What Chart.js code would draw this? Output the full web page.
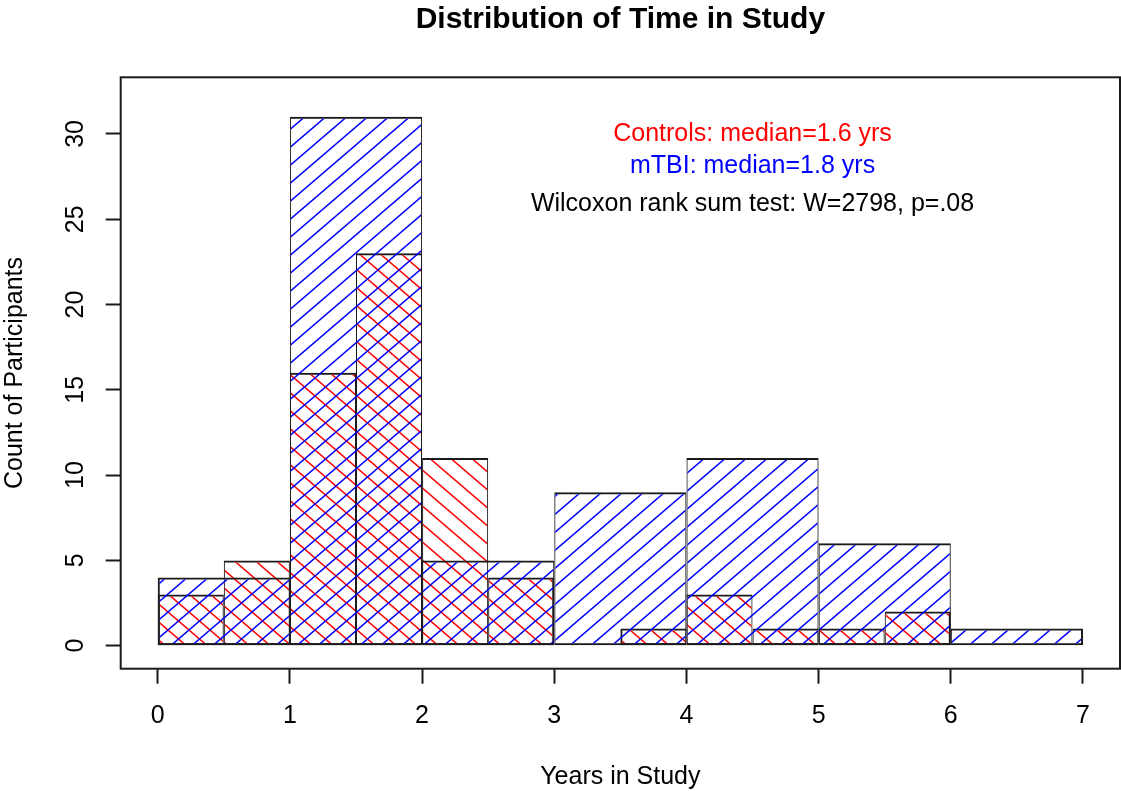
<!DOCTYPE html>
<html>
<head>
<meta charset="utf-8">
<title>Distribution of Time in Study</title>
<script src="https://cdn.jsdelivr.net/npm/chart.js@4.4.1/dist/chart.umd.min.js"></script>
<style>
  body { margin: 0; background: #fff; }
  #wrap { width: 1121px; height: 791px; }
</style>
</head>
<body>
<div id="wrap"><canvas id="histChart" width="1121" height="791"></canvas></div>
<script>
// mTBI group, one-year bins
const mtbiBreaks = [0, 1, 2, 3, 4, 5, 6, 7];
const mtbiCounts = [4, 31, 5, 9, 11, 6, 1];

// Controls group, half-year bins
const controlBreaks = [0, 0.5, 1, 1.5, 2, 2.5, 3, 3.5, 4, 4.5, 5, 5.5, 6];
const controlCounts = [3, 5, 16, 23, 11, 4, 0, 1, 3, 1, 1, 2];

const xTickValues = [0, 1, 2, 3, 4, 5, 6, 7];
const yTickValues = [0, 5, 10, 15, 20, 25, 30];

const noteLines = ['Controls: median=1.6 yrs', 'mTBI: median=1.8 yrs', 'Wilcoxon rank sum test: W=2798, p=.08'];
const noteColors = ['#ff0000', '#0000ff', '#000000'];
const noteX = 4.5;
const noteY = [30, 28.1, 25.9];

const FONT = '"Liberation Sans", Arial, sans-serif';
Chart.defaults.font.family = FONT;
Chart.defaults.color = '#000';

const canvas = document.getElementById('histChart');
const mainCtx = canvas.getContext('2d');

// bin centres -> {x, y} points
function toPoints(breaks, counts) {
  return counts.map((c, i) => ({ x: (breaks[i] + breaks[i + 1]) / 2, y: c }));
}

// diagonal hatch tile, dir 1 = "/", dir -1 = "\"
function hatch(color, dir) {
  const w = 21, h = 18;
  const c = document.createElement('canvas');
  c.width = w; c.height = h;
  const g = c.getContext('2d');
  g.strokeStyle = color;
  g.lineWidth = 1.5;
  g.beginPath();
  for (let n = -1; n <= 2; n++) {
    if (dir > 0) {
      g.moveTo(-w, h * (n + 1)); g.lineTo(2 * w, h * (n - 2));
    } else {
      g.moveTo(-w, h * (-1 - n)); g.lineTo(2 * w, h * (2 - n));
    }
  }
  g.stroke();
  return mainCtx.createPattern(c, 'repeat');
}

// shared edges get 1px from each side, exposed edges 2px
function sideWidths(counts) {
  return (c) => {
    const i = c.dataIndex;
    const prev = i > 0 ? counts[i - 1] : 0;
    const next = i < counts.length - 1 ? counts[i + 1] : 0;
    return { top: 2, bottom: 2, left: prev > 0 ? 1 : 2, right: next > 0 ? 1 : 2 };
  };
}

const setTicks = (vals) => (axis) => { axis.ticks = vals.map(v => ({ value: v })); };

const boxPlugin = {
  id: 'plotBox',
  afterDraw(chart) {
    const a = chart.chartArea, g = chart.ctx;
    g.save();
    g.strokeStyle = '#1a1a1a';
    g.lineWidth = 2;
    g.strokeRect(a.left, a.top, a.right - a.left, a.bottom - a.top);
    g.restore();
  }
};

const notesPlugin = {
  id: 'notes',
  afterDatasetsDraw(chart) {
    const g = chart.ctx, xs = chart.scales.x, ys = chart.scales.y;
    g.save();
    g.font = '25px ' + FONT;
    g.textAlign = 'center';
    g.textBaseline = 'middle';
    noteLines.forEach((t, i) => {
      g.fillStyle = noteColors[i];
      g.fillText(t, xs.getPixelForValue(noteX), ys.getPixelForValue(noteY[i]));
    });
    g.restore();
  }
};

const chart = new Chart(canvas, {
  type: 'bar',
  data: {
    datasets: [
      {
        label: 'mTBI',
        xAxisID: 'x',
        data: toPoints(mtbiBreaks, mtbiCounts),
        backgroundColor: hatch('#0000ff', 1),
        borderWidth: sideWidths(mtbiCounts)
      },
      {
        label: 'Controls',
        xAxisID: 'x2',
        data: toPoints(controlBreaks, controlCounts),
        backgroundColor: hatch('#ff0000', -1),
        borderWidth: sideWidths(controlCounts)
      }
    ]
  },
  options: {
    responsive: false,
    animation: false,
    devicePixelRatio: 1,
    layout: { padding: { top: 0, left: 0, right: 1, bottom: 0 } },
    datasets: {
      bar: {
        barPercentage: 1,
        categoryPercentage: 1,
        grouped: false,
        borderSkipped: false,
        borderColor: '#1a1a1a',
        inflateAmount: 0
      }
    },
    plugins: {
      legend: { display: false },
      tooltip: { enabled: false },
      title: {
        display: true,
        fullSize: false,
        text: 'Distribution of Time in Study',
        color: '#000',
        font: { size: 30, weight: 'bold' },
        padding: { top: 2, bottom: 39.3 }
      }
    },
    scales: {
      x: {
        type: 'linear',
        offset: false,
        min: -0.28,
        max: 7.28,
        afterBuildTicks: setTicks(xTickValues),
        afterFit: (a) => { a.height = 122.3; },
        grid: { offset: false, drawOnChartArea: false, tickLength: 15, tickWidth: 2, tickColor: '#1a1a1a' },
        border: { display: false },
        ticks: { font: { size: 25 }, color: '#000', padding: 17, maxRotation: 0, autoSkip: false },
        title: { display: true, text: 'Years in Study', color: '#000', font: { size: 25 }, padding: { top: 0, bottom: -1 } }
      },
      x2: {
        type: 'linear',
        display: false,
        offset: false,
        grid: { offset: false },
        min: -0.28,
        max: 7.28,
        afterBuildTicks: setTicks(xTickValues)
      },
      y: {
        type: 'linear',
        min: -1.35,
        max: 33.32,
        afterBuildTicks: setTicks(yTickValues),
        afterFit: (a) => { a.width = 120.7; },
        grid: { drawOnChartArea: false, tickLength: 15, tickWidth: 2, tickColor: '#1a1a1a' },
        border: { display: false },
        ticks: { font: { size: 25 }, color: '#000', padding: 16, minRotation: 90, maxRotation: 90, crossAlign: 'center', autoSkip: false },
        title: { display: true, text: 'Count of Participants', color: '#000', font: { size: 25 }, padding: { top: 0, bottom: 0 } }
      }
    }
  },
  plugins: [boxPlugin, notesPlugin]
});
</script>
</body>
</html>
